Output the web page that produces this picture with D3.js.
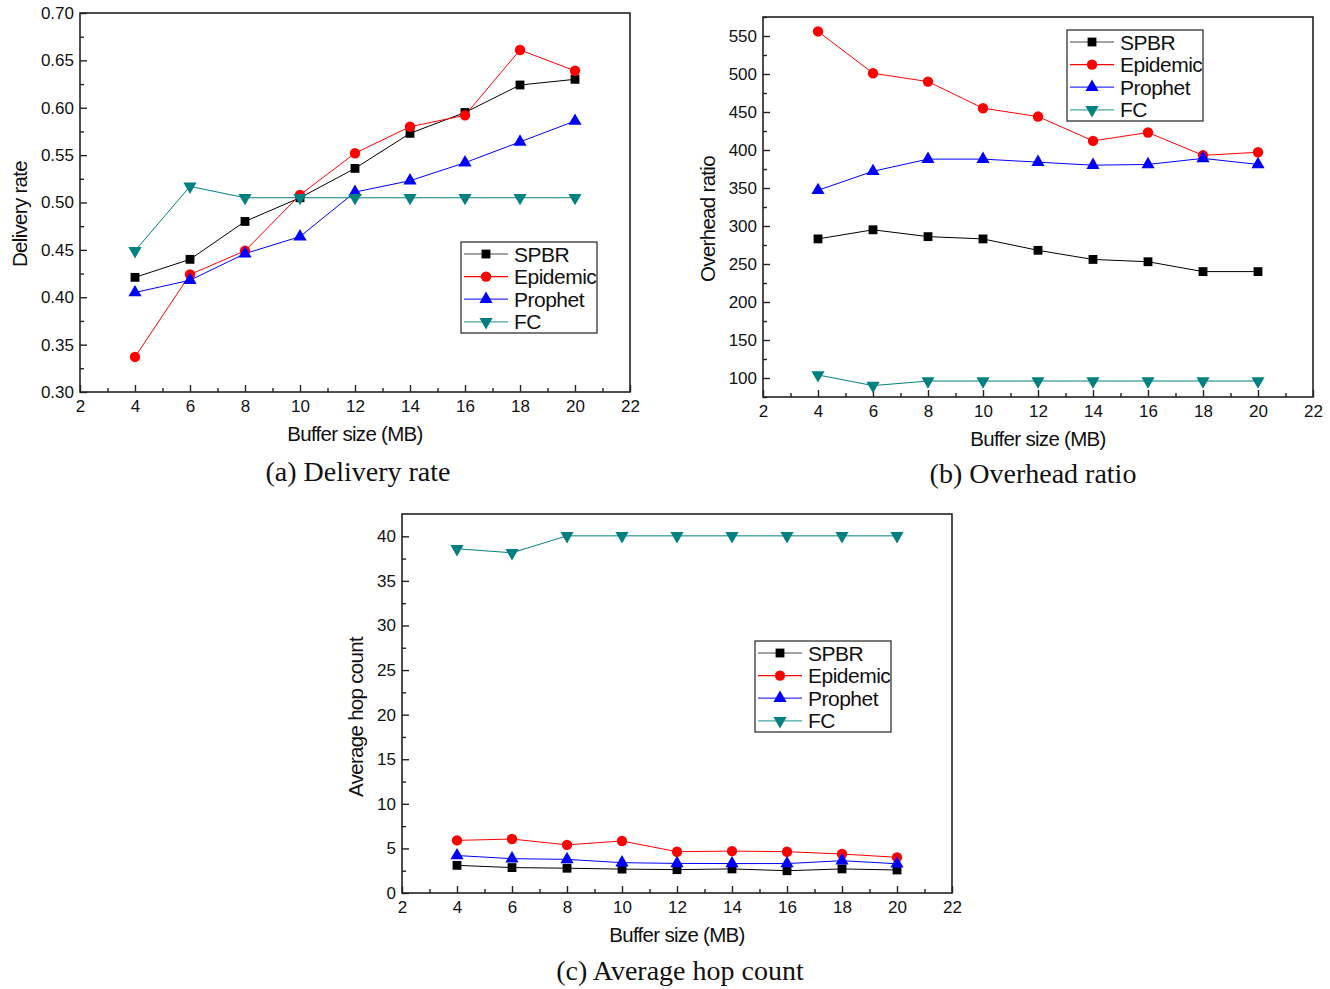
<!DOCTYPE html>
<html>
<head>
<meta charset="utf-8">
<script src="https://cdn.jsdelivr.net/npm/d3@7/dist/d3.min.js"></script>
<style>
  body { margin: 0; background: #fff; }
  svg { display: block; }
  text { font-family: Arial, "Liberation Sans", sans-serif; fill: #111; }
  .caption { font-family: "Times New Roman", "Liberation Serif", serif; font-size: 28px; }
</style>
</head>
<body>
<div id="chart"></div>
<script>
'use strict';

// buffer sizes (MB)
const bufferSizes = [4, 6, 8, 10, 12, 14, 16, 18, 20]
const seriesNames = ['SPBR', 'Epidemic', 'Prophet', 'FC']

// (a) delivery rate
const deliverySPBR     = [0.421, 0.440, 0.480, 0.505, 0.536, 0.573, 0.595, 0.624, 0.630]
const deliveryEpidemic = [0.337, 0.424, 0.449, 0.508, 0.552, 0.580, 0.592, 0.661, 0.639]
const deliveryProphet  = [0.405, 0.418, 0.446, 0.464, 0.511, 0.523, 0.542, 0.564, 0.586]
const deliveryFC       = [0.449, 0.517, 0.505, 0.505, 0.505, 0.505, 0.505, 0.505, 0.505]

// (b) overhead ratio
const overheadSPBR     = [283, 295, 286, 283, 268, 256, 253, 240, 240]
const overheadEpidemic = [556, 501, 490, 455, 444, 412, 423, 393, 397]
const overheadProphet  = [347, 372, 388, 388, 384, 380, 381, 389, 381]
const overheadFC       = [104, 90, 96, 96, 96, 96, 96, 96, 96]

// (c) average hop count
const hopSPBR     = [3.1, 2.85, 2.78, 2.68, 2.62, 2.7, 2.5, 2.7, 2.58]
const hopEpidemic = [5.9, 6.05, 5.4, 5.83, 4.63, 4.7, 4.63, 4.37, 4.0]
const hopProphet  = [4.2, 3.85, 3.77, 3.4, 3.32, 3.3, 3.3, 3.62, 3.28]
const hopFC       = [38.6, 38.15, 40.05, 40.05, 40.05, 40.05, 40.05, 40.05, 40.05]

// axis ticks
const xTicks = [2, 4, 6, 8, 10, 12, 14, 16, 18, 20, 22]
const deliveryTicks = [0.30, 0.35, 0.40, 0.45, 0.50, 0.55, 0.60, 0.65, 0.70]
const overheadTicks = [100, 150, 200, 250, 300, 350, 400, 450, 500, 550]
const hopTicks = [0, 5, 10, 15, 20, 25, 30, 35, 40]

const styles = {
  SPBR:     { color: '#000000', legendLine: '#444444', symbol: d3.symbolSquare,   size: 78,  rotate: 0 },
  Epidemic: { color: '#ff0000', legendLine: '#ff0000', symbol: d3.symbolCircle,   size: 85,  rotate: 0 },
  Prophet:  { color: '#0000ff', legendLine: '#3333ff', symbol: d3.symbolTriangle, size: 75,  rotate: 0 },
  FC:       { color: '#008080', legendLine: '#4aa5a5', symbol: d3.symbolTriangle, size: 75,  rotate: 180 }
}

const svg = d3.select('#chart').append('svg')
    .attr('width', 1330)
    .attr('height', 989)

function drawPanel(cfg) {
  const x = d3.scaleLinear().domain([2, 22]).range([cfg.left, cfg.left + cfg.width])
  const y = d3.scaleLinear().domain(cfg.yDomain).range([cfg.top + cfg.height, cfg.top])
  const g = svg.append('g')

  // minor ticks
  const xMinor = d3.range(3, 22, 2)
  const yMinor = cfg.yMinor

  const bottom = cfg.top + cfg.height

  g.append('g')
    .attr('transform', `translate(0,${bottom})`)
    .call(d3.axisBottom(x).tickValues(xMinor).tickSize(-4).tickFormat(''))
    .call(a => a.select('.domain').remove())
  g.append('g')
    .attr('transform', `translate(0,${bottom})`)
    .call(d3.axisBottom(x).tickValues(xTicks).tickSize(-7).tickPadding(8).tickFormat(d3.format('d')))
    .call(a => a.select('.domain').remove())

  g.append('g')
    .attr('transform', `translate(${cfg.left},0)`)
    .call(d3.axisLeft(y).tickValues(yMinor).tickSize(-4).tickFormat(''))
    .call(a => a.select('.domain').remove())
  g.append('g')
    .attr('transform', `translate(${cfg.left},0)`)
    .call(d3.axisLeft(y).tickValues(cfg.yTicks).tickSize(-7).tickPadding(6).tickFormat(cfg.format))
    .call(a => a.select('.domain').remove())

  g.selectAll('.tick line').attr('stroke', '#222').attr('stroke-width', 1.4)
  g.selectAll('.tick text').attr('font-size', 17).attr('font-family', 'Arial, "Liberation Sans", sans-serif').attr('fill', '#111')

  // frame
  g.append('rect')
    .attr('x', cfg.left).attr('y', cfg.top)
    .attr('width', cfg.width).attr('height', cfg.height)
    .attr('fill', 'none').attr('stroke', '#222').attr('stroke-width', 1.6)

  const line = d3.line().x((d, i) => x(bufferSizes[i])).y(d => y(d))

  cfg.series.forEach((vals, k) => {
    const st = styles[seriesNames[k]]
    g.append('path')
      .datum(vals)
      .attr('d', line)
      .attr('fill', 'none')
      .attr('stroke', st.color)
      .attr('stroke-width', 1)
  })

  cfg.series.forEach((vals, k) => {
    const st = styles[seriesNames[k]]
    g.selectAll(null)
      .data(vals)
      .enter().append('path')
      .attr('d', d3.symbol().type(st.symbol).size(st.size))
      .attr('transform', (d, i) => `translate(${x(bufferSizes[i])},${y(d)}) rotate(${st.rotate})`)
      .attr('fill', st.color)
  })

  // legend
  const lg = g.append('g').attr('transform', `translate(${cfg.legend[0]},${cfg.legend[1]})`)
  lg.append('rect')
    .attr('width', 136).attr('height', 91)
    .attr('fill', '#fff').attr('stroke', '#222').attr('stroke-width', 1.2)
  seriesNames.forEach((name, k) => {
    const st = styles[name]
    const ry = 12 + k * 22.6
    lg.append('line')
      .attr('x1', 3).attr('x2', 47).attr('y1', ry).attr('y2', ry)
      .attr('stroke', st.legendLine).attr('stroke-width', 1.2)
    lg.append('path')
      .attr('d', d3.symbol().type(st.symbol).size(st.size))
      .attr('transform', `translate(25,${ry}) rotate(${st.rotate})`)
      .attr('fill', st.color)
    lg.append('text')
      .attr('x', 53).attr('y', ry + 7.5)
      .attr('font-size', 21)
      .attr('letter-spacing', -0.5)
      .text(name)
  })

  // axis titles
  g.append('text')
    .attr('x', cfg.left + cfg.width / 2 + cfg.xTitleDx).attr('y', bottom + 49)
    .attr('text-anchor', 'middle')
    .attr('font-size', 20.5)
    .attr('letter-spacing', -0.7)
    .text('Buffer size (MB)')
  g.append('text')
    .attr('transform', `translate(${cfg.yTitle[0]},${cfg.yTitle[1]}) rotate(-90)`)
    .attr('text-anchor', 'middle')
    .attr('font-size', 20.5)
    .attr('letter-spacing', -0.7)
    .text(cfg.yLabel)

  // caption
  g.append('text')
    .attr('class', 'caption')
    .attr('x', cfg.caption[0]).attr('y', cfg.caption[1])
    .attr('text-anchor', 'middle')
    .text(cfg.captionText)
}

drawPanel({
  left: 80, top: 13, width: 550, height: 379,
  yDomain: [0.30, 0.70],
  yTicks: deliveryTicks,
  yMinor: d3.range(0.325, 0.70, 0.05),
  format: d3.format('.2f'),
  series: [deliverySPBR, deliveryEpidemic, deliveryProphet, deliveryFC],
  legend: [461, 242],
  yLabel: 'Delivery rate',
  yTitle: [27, 214],
  xTitleDx: 0,
  caption: [358, 481],
  captionText: '(a) Delivery rate'
})

drawPanel({
  left: 763, top: 17, width: 550, height: 380,
  yDomain: [75, 575],
  yTicks: overheadTicks,
  yMinor: d3.range(75, 576, 50),
  format: d3.format('d'),
  series: [overheadSPBR, overheadEpidemic, overheadProphet, overheadFC],
  legend: [1067, 30],
  yLabel: 'Overhead ratio',
  yTitle: [715, 219],
  xTitleDx: 0,
  caption: [1033, 483],
  captionText: '(b) Overhead ratio'
})

drawPanel({
  left: 402, top: 514, width: 550, height: 379,
  yDomain: [0, 42.5],
  yTicks: hopTicks,
  yMinor: d3.range(2.5, 42.5, 5),
  format: d3.format('d'),
  series: [hopSPBR, hopEpidemic, hopProphet, hopFC],
  legend: [755, 641],
  yLabel: 'Average hop count',
  yTitle: [363, 717],
  xTitleDx: 0,
  caption: [680, 980],
  captionText: '(c) Average hop count'
})
</script>
</body>
</html>
